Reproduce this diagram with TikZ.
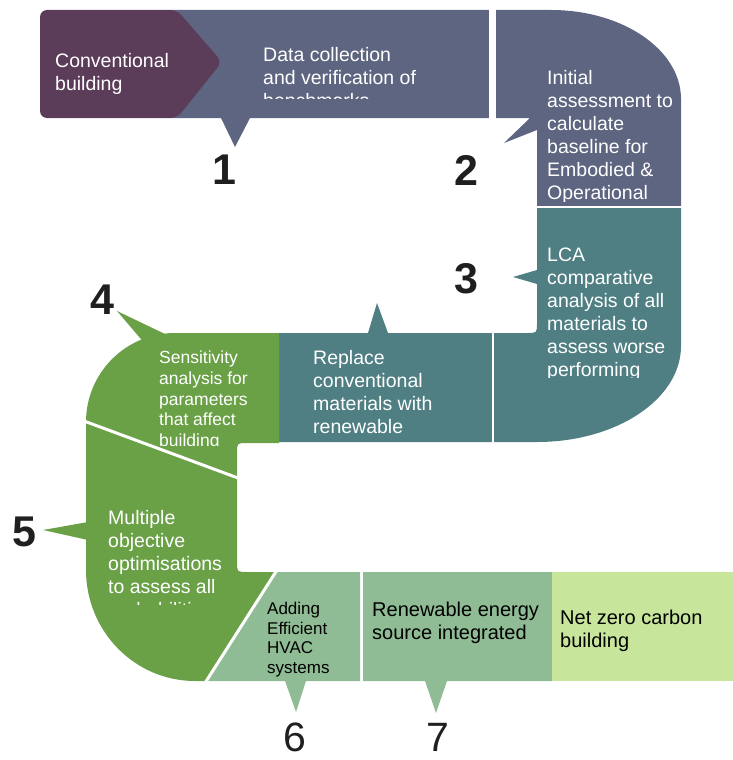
\documentclass[tikz,border=0pt]{standalone}
\usepackage{fontspec}
\setmainfont{Liberation Sans}

\definecolor{plum}{RGB}{91,61,89}
\definecolor{slate}{RGB}{94,101,128}
\definecolor{tealband}{RGB}{79,127,131}
\definecolor{leaf}{RGB}{106,161,71}
\definecolor{sage}{RGB}{143,188,148}
\definecolor{palegreen}{RGB}{200,230,155}

\begin{document}
\begin{tikzpicture}[x=1pt, y=1pt,
    txt/.style={anchor=north west, inner sep=0pt, align=left, text=white, font=\fontsize{19.5}{23}\selectfont},
    smalltxt/.style={txt, font=\fontsize{17.5}{20.7}\selectfont},
    tinytxt/.style={txt, text=black, font=\fontsize{17}{19.5}\selectfont},
    num/.style={inner sep=0pt, text=black!88, font=\fontsize{43}{43}\selectfont\bfseries},
    plainnum/.style={num, font=\fontsize{41}{41}\selectfont},
    gap/.style={draw=white, line width=3pt}
]
\useasboundingbox (0,0) rectangle (733,-760);

% Top band (steps 1 and 2)
\fill[slate] (170,-10) -- (551,-10) arc[start angle=90, end angle=0, x radius=130, y radius=89]
    -- (681,-207) -- (537,-207) -- (537,-130) -- (504,-143) -- (530,-118)
    -- (250,-118) -- (235,-147) -- (221,-118) -- (170,-118) -- cycle;
\fill[white] (489,-5) rectangle (496,-119);

% Conventional building
\fill[plum, rounded corners=7pt] (40,-10) -- (177,-10) -- (222,-62) -- (177,-118) -- (40,-118) -- cycle;

% Middle band (step 3 and replace)
\fill[tealband] (537,-207) -- (681,-207) -- (681,-346) arc[start angle=0, end angle=-90, x radius=144, y radius=96]
    -- (279,-442) -- (279,-333) -- (368,-333) -- (377,-303) -- (388,-333)
    -- (527,-333) .. controls (537,-333) .. (537,-323)
    -- (537,-284) -- (513,-277) -- (537,-270) -- cycle;
\draw[white, line width=1.5pt] (537,-207) -- (682,-207);
\draw[white, line width=2pt] (493,-333) -- (493,-443);

% Left band (steps 4 and 5)
\fill[leaf] (279,-333) -- (175,-333) arc[start angle=90, end angle=180, radius=89]
    -- (86,-570) arc[start angle=180, end angle=270, x radius=109, y radius=111]
    -- (206,-681) -- (276,-572) -- (247,-572) .. controls (237,-572) .. (237,-562)
    -- (237,-453) .. controls (237,-443) .. (247,-443) -- (279,-443) -- cycle;
\fill[leaf] (117,-311) -- (165,-334) -- (152,-352) -- cycle;
\fill[leaf] (43,-530) -- (88,-522) -- (88,-540) -- cycle;
\draw[gap] (84,-421) -- (238,-478);

% Bottom band (steps 6, 7 and result)
\fill[sage] (276,-572) -- (360,-572) -- (360,-681) -- (306,-681) -- (296,-712) -- (285,-681) -- (206,-681) -- cycle;
\fill[sage] (363,-572) -- (552,-572) -- (552,-681) -- (447,-681) -- (436,-713) -- (425,-681) -- (363,-681) -- cycle;
\fill[palegreen] (552,-572) rectangle (733,-681);
\draw[gap] (277,-570) -- (205,-683);

% Texts
\node[txt] (conv) at (55,-53) {Conventional\\building};
\begin{scope}
  \clip (250,-10) rectangle (488,-98);
  \node[txt] (collect) at (263,-47) {Data collection\\and verification of\\benchmarks};
\end{scope}
\begin{scope}
  \clip (537,-10) rectangle (682,-201);
  \node[txt] (initial) at (547,-70) {Initial\\assessment to\\calculate\\baseline for\\Embodied \&\\Operational};
\end{scope}
\begin{scope}
  \clip (537,-208) rectangle (682,-377);
  \node[txt] (lca) at (547,-248) {LCA\\comparative\\analysis of all\\materials to\\assess worse\\performing};
\end{scope}
\node[txt] (replace) at (313,-350) {Replace\\conventional\\materials with\\renewable};
\begin{scope}
  \clip (150,-333) rectangle (279,-445);
  \node[smalltxt] (sens) at (159,-351) {Sensitivity\\analysis for\\parameters\\that affect\\building};
\end{scope}
\begin{scope}
  \clip (95,-480) rectangle (237,-604);
  \node[txt] (multi) at (108,-510) {Multiple\\objective\\optimisations\\to assess all\\probabilities};
\end{scope}
\node[tinytxt] (hvac) at (267,-602) {Adding\\Efficient\\HVAC\\systems};
\node[txt, text=black, font=\fontsize{20}{23}\selectfont] (renew) at (372,-602) {Renewable energy\\source integrated};
\node[txt, text=black, font=\fontsize{20}{23}\selectfont] (netzero) at (560,-610) {Net zero carbon\\building};

% Step numbers
\node[num] (n1) at (224,-170) {1};
\node[num] (n2) at (466,-170) {2};
\node[num] (n3) at (466,-279) {3};
\node[num] (n4) at (102,-300) {4};
\node[num] (n5) at (24,-532) {5};
\node[plainnum] (n6) at (295,-737) {6};
\node[plainnum] (n7) at (438,-737) {7};
\end{tikzpicture}
\end{document}
